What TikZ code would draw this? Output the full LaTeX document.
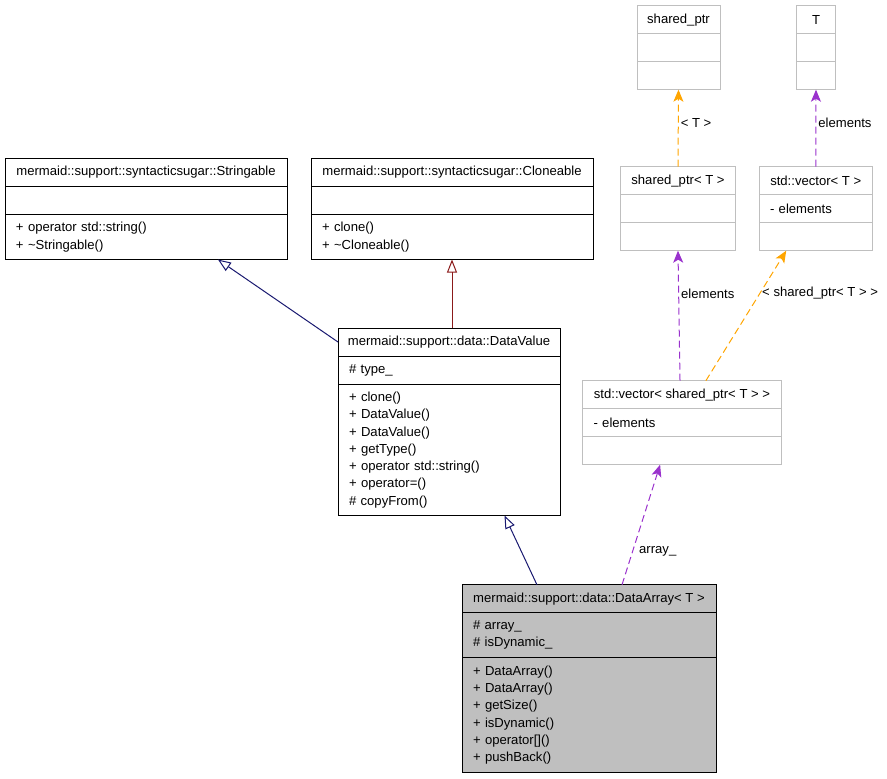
\documentclass[tikz,border=0pt]{standalone}
\usepackage{fontspec}
\setmainfont{Liberation Sans}
\usepackage{tikz}
\usetikzlibrary{positioning,arrows.meta,calc}
\definecolor{inhblue}{HTML}{191970}
\definecolor{inhred}{HTML}{8B1A1A}
\definecolor{usepurple}{HTML}{9A32CD}
\definecolor{useorange}{HTML}{FFA500}
\definecolor{extgray}{HTML}{BFBFBF}
\tikzset{
  chead/.style = {draw, line width=1pt, outer sep=0pt, inner sep=0pt, minimum height=28pt, align=center},
  cbody/.style = {draw, line width=1pt, outer sep=0pt, inner xsep=11pt, inner ysep=0pt, align=left},
  ext/.style   = {draw=extgray},
  inh/.style   = {-{Triangle[open, length=13pt, width=10pt]}, line width=1pt},
  use/.style   = {-{Stealth[length=12pt, width=10pt, inset=3pt]}, line width=1pt, dash pattern=on 7pt off 4pt},
  lbl/.style   = {right, inner sep=2pt},
}
\begin{document}
\begin{tikzpicture}[x=1pt, y=-1pt, font=\fontsize{13.1}{17.3}\selectfont]
  \useasboundingbox (0,0) rectangle (887,779);
  % base classes
  \node[chead, minimum width=282, anchor=north west] (sg) at (5,158) {mermaid::support::syntacticsugar::Stringable};
  \node[cbody, text width=260, minimum height=28.5, below=0pt of sg] (sg-attr) {};
  \node[cbody, text width=260, minimum height=45, below=0pt of sg-attr] (sg-ops) {+ operator std::string()\\+ \textasciitilde Stringable()};
  \node[chead, minimum width=282, anchor=north west] (cl) at (311,158) {mermaid::support::syntacticsugar::Cloneable};
  \node[cbody, text width=260, minimum height=28.5, below=0pt of cl] (cl-attr) {};
  \node[cbody, text width=260, minimum height=45, below=0pt of cl-attr] (cl-ops) {+ clone()\\+ \textasciitilde Cloneable()};
  % DataValue
  \node[chead, minimum width=222, anchor=north west] (dv) at (338,328) {mermaid::support::data::DataValue};
  \node[cbody, text width=200, minimum height=28.5, below=0pt of dv] (dv-attr) {\# type\_};
  \node[cbody, text width=200, minimum height=131, below=0pt of dv-attr] (dv-ops) {+ clone()\\+ DataValue()\\+ DataValue()\\+ getType()\\+ operator std::string()\\+ operator=()\\\# copyFrom()};
  % DataArray
  \node[chead, fill=extgray, minimum width=254, anchor=north west] (da) at (462,584.7) {mermaid::support::data::DataArray< T >};
  \node[cbody, fill=extgray, text width=232, minimum height=44.6, below=0pt of da] (da-attr) {\# array\_\\\# isDynamic\_};
  \node[cbody, fill=extgray, text width=232, minimum height=115.4, below=0pt of da-attr] (da-ops) {+ DataArray()\\+ DataArray()\\+ getSize()\\+ isDynamic()\\+ operator[]()\\+ pushBack()};
  % templates
  \node[chead, ext, minimum width=199, anchor=north west] (vs) at (582.5,380.7) {std::vector< shared\_ptr< T > >};
  \node[cbody, ext, text width=177, minimum height=28, below=0pt of vs] (vs-attr) {- elements};
  \node[cbody, ext, text width=177, minimum height=28, below=0pt of vs-attr] (vs-ops) {};
  \node[chead, ext, minimum width=115, anchor=north west] (sp) at (620.5,166.7) {shared\_ptr< T >};
  \node[cbody, ext, text width=93, minimum height=28, below=0pt of sp] (sp-attr) {};
  \node[cbody, ext, text width=93, minimum height=28, below=0pt of sp-attr] (sp-ops) {};
  \node[chead, ext, minimum width=113.5, anchor=north west] (vt) at (759,166.7) {std::vector< T >};
  \node[cbody, ext, text width=91.5, minimum height=28, below=0pt of vt] (vt-attr) {- elements};
  \node[cbody, ext, text width=91.5, minimum height=28, below=0pt of vt-attr] (vt-ops) {};
  \node[chead, ext, minimum width=83, anchor=north west] (sp0) at (637,5.7) {shared\_ptr};
  \node[cbody, ext, text width=61, minimum height=28, below=0pt of sp0] (sp0-attr) {};
  \node[cbody, ext, text width=61, minimum height=28, below=0pt of sp0-attr] (sp0-ops) {};
  \node[chead, ext, minimum width=39, anchor=north west] (t) at (796.5,5.7) {T};
  \node[cbody, ext, text width=17, minimum height=28, below=0pt of t] (t-attr) {};
  \node[cbody, ext, text width=17, minimum height=28, below=0pt of t-attr] (t-ops) {};
  % inheritance
  \draw[inh, inhblue] (dv.west) -- ($(sg-ops.south west)!0.755!(sg-ops.south east)$);
  \draw[inh, inhred] (cl-ops.south |- dv.north) -- (cl-ops.south);
  \draw[inh, inhblue] ($(da.north west)!0.295!(da.north east)$) -- ($(dv-ops.south west)!0.75!(dv-ops.south east)$);
  % usage
  \draw[use, usepurple] ($(da.north west)!0.63!(da.north east)$) -- ($(vs-ops.south west)!0.39!(vs-ops.south east)$)
    node[lbl, pos=0.28, xshift=4pt, text=black] {array\_};
  \draw[use, usepurple] ($(vs.north west)!0.49!(vs.north east)$) -- (sp-ops.south) node[lbl, pos=0.67, text=black] {elements};
  \draw[use, useorange] ($(vs.north west)!0.62!(vs.north east)$) -- ($(vt-ops.south west)!0.24!(vt-ops.south east)$)
    node[lbl, pos=0.67, text=black] {< shared\_ptr< T > >};
  \draw[use, useorange] (sp.north) -- (sp0-ops.south) node[lbl, pos=0.57, text=black] {< T >};
  \draw[use, usepurple] (vt.north) -- (t-ops.south) node[lbl, pos=0.57, text=black] {elements};
\end{tikzpicture}
\end{document}
